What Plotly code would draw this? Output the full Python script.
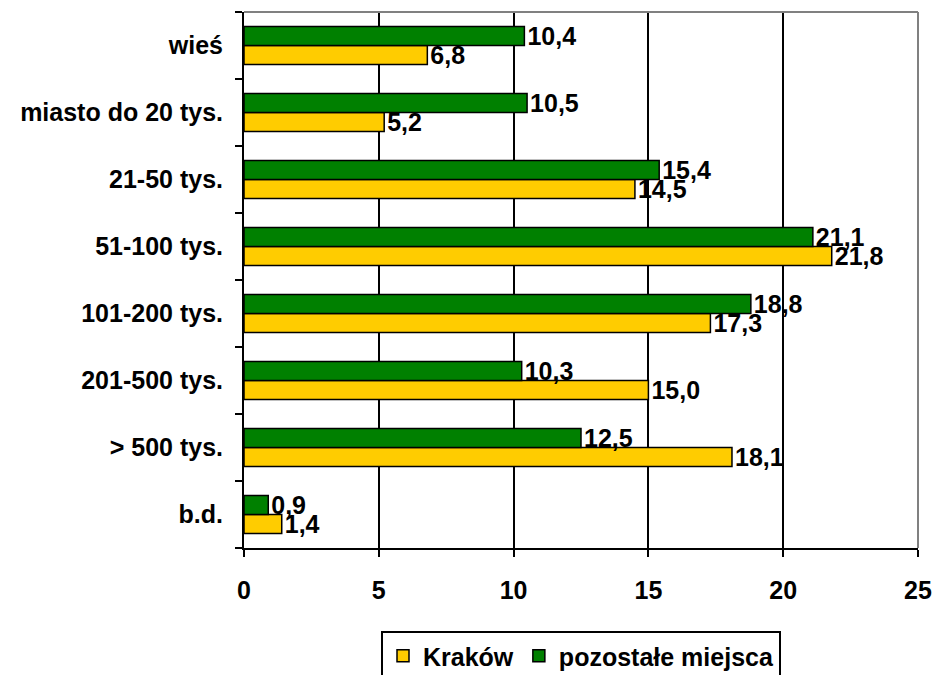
import plotly.graph_objects as go

categories = ["b.d.", "> 500 tys.", "201-500 tys.", "101-200 tys.", "51-100 tys.",
              "21-50 tys.", "miasto do 20 tys.", "wieś"]
krakow = [1.4, 18.1, 15.0, 17.3, 21.8, 14.5, 5.2, 6.8]
pozostale = [0.9, 12.5, 10.3, 18.8, 21.1, 15.4, 10.5, 10.4]
x_ticks = [0, 5, 10, 15, 20, 25]

def fmt(v):
    return f"{v:.1f}".replace(".", ",")

FONT = "Liberation Sans, Arial, sans-serif"
BOLD = dict(family=FONT, size=25, color="black", weight="bold")
fig = go.Figure()
fig.add_trace(go.Bar(
    y=categories, x=krakow, orientation="h", name="Kraków",
    marker=dict(color="#FFCC00", line=dict(color="black", width=1.5)),
    text=[fmt(v) for v in krakow], textposition="outside", constraintext="none",
    textfont=BOLD, cliponaxis=False,
))
fig.add_trace(go.Bar(
    y=categories, x=pozostale, orientation="h", name="pozostałe miejsca",
    marker=dict(color="#008000", line=dict(color="black", width=1.5)),
    text=[fmt(v) for v in pozostale], textposition="outside", constraintext="none",
    textfont=BOLD, cliponaxis=False,
))

fig.update_layout(
    width=934, height=675,
    margin=dict(l=244, r=16, t=12, b=127, autoexpand=False),
    paper_bgcolor="white", plot_bgcolor="white",
    barmode="group", bargap=0.43, bargroupgap=0,
    font=BOLD,
    showlegend=True,
    legend=dict(orientation="h", x=0.5, xanchor="center", y=-0.155, yanchor="top",
                bordercolor="black", borderwidth=2, bgcolor="white",
                font=BOLD, traceorder="normal", itemwidth=30),
)
fig.update_xaxes(range=[0, 25], tickvals=x_ticks, showgrid=True, gridcolor="black", gridwidth=2,
                 showline=True, linecolor="black", linewidth=2, ticks="outside", ticklen=7,
                 tickwidth=2, tickcolor="black", zeroline=False, automargin=False,
                 ticklabelstandoff=12, tickfont=BOLD)
fig.update_yaxes(showline=True, linecolor="black", linewidth=2, ticks="outside", ticklen=7,
                 tickwidth=2, tickcolor="black", tickson="boundaries", showgrid=False,
                 ticklabelstandoff=14, automargin=False, tickfont=BOLD)
fig.add_shape(type="line", xref="paper", yref="paper", x0=0, x1=1, y0=1, y1=1,
              line=dict(color="#808080", width=2))
fig.add_shape(type="line", xref="paper", yref="paper", x0=1, x1=1, y0=0, y1=1,
              line=dict(color="#808080", width=2))
fig.write_html("out.html",
               config={"displayModeBar": False},
               post_script="document.body.style.margin='0';"
                           "document.documentElement.style.overflow='hidden';"
                           "document.body.style.overflow='hidden';")
